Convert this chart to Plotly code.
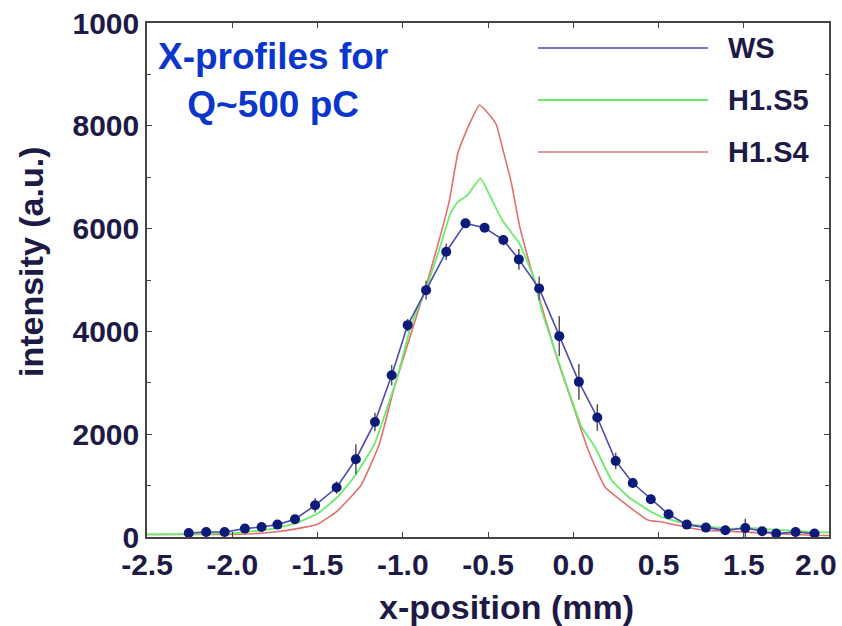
import plotly.graph_objects as go

# ---- data ----
ws_x = [-2.255, -2.153, -2.045, -1.926, -1.828, -1.735, -1.632, -1.514, -1.388, -1.275,
        -1.163, -1.065, -0.971, -0.863, -0.745, -0.632, -0.520, -0.410, -0.319, -0.200,
        -0.082, 0.033, 0.141, 0.249, 0.349, 0.455, 0.559, 0.666, 0.778, 0.892,
        1.009, 1.108, 1.190, 1.304, 1.415]
ws_y = [78, 97, 97, 163, 195, 241, 345, 617, 962, 1513,
        2239, 3148, 4122, 4803, 5549, 6102, 6016, 5777, 5401, 4836,
        3908, 3018, 2325, 1480, 1051, 734, 442, 241, 183, 130,
        175, 111, 66, 97, 66]
ws_err = [30, 30, 40, 40, 40, 50, 60, 140, 120, 290,
          180, 200, 120, 180, 160, 80, 80, 100, 200, 230,
          390, 350, 260, 160, 100, 80, 80, 60, 60, 60,
          180, 50, 40, 50, 40]

s5_x = [-2.5, -1.951, -1.755, -1.618, -1.5, -1.382, -1.285, -1.167, -1.029, -0.951,
        -0.867, -0.790, -0.720, -0.676, -0.620, -0.544, -0.486, -0.417, -0.314, -0.265,
        -0.226, -0.186, -0.108, -0.029, 0.049, 0.127, 0.225, 0.324, 0.441, 0.519,
        0.656, 0.912, 1.010, 1.402, 1.5]
s5_y = [50, 86, 163, 280, 456, 779, 1168, 1800, 3148, 4122,
        4803, 5549, 6297, 6523, 6650, 6978, 6620, 6166, 5700, 5323,
        4998, 4414, 3635, 2856, 2142, 1752, 1104, 779, 520, 389,
        261, 163, 175, 97, 90]

s4_x = [-2.5, -1.951, -1.755, -1.618, -1.5, -1.386, -1.245, -1.138, -1.049, -0.951,
        -0.853, -0.775, -0.726, -0.676, -0.618, -0.549, -0.491, -0.451, -0.412, -0.363,
        -0.314, -0.235, -0.167, -0.088, 0.0, 0.088, 0.186, 0.304, 0.441, 0.519,
        0.656, 0.774, 1.049, 1.402, 1.5]
s4_y = [50, 53, 97, 163, 247, 500, 1006, 1800, 2920, 3960,
        5000, 5913, 6555, 7480, 7970, 8405, 8210, 8020, 7530, 6890,
        6040, 5062, 4283, 3400, 2550, 1688, 973, 650, 325, 292,
        195, 130, 90, 33, 30]

x_tickvals = [-2.5, -2.0, -1.5, -1.0, -0.5, 0.0, 0.5, 1.0, 1.5]
x_ticktext = ['-2.5', '-2.0', '-1.5', '-1.0', '-0.5', '0.0', '0.5', '1.5', '']
x_last_label = '2.0'   # printed slightly left of the last tick, as in the reference
y_tickvals = [0, 2000, 4000, 6000, 8000, 10000]
y_ticktext = ['0', '2000', '4000', '6000', '8000', '1000']

series_names = ['WS', 'H1.S5', 'H1.S4']
series_colors = ['#4b4bb0', '#6cec6c', '#e07070']

NAVY = '#1e1a45'
FONT = 'Liberation Sans, Arial, sans-serif'

# plot-area geometry in pixels (for placing decorations in paper coords)
L, R, T, B = 147, 829, 23, 537
PW, PH = R - L, B - T


def px(xp):
    return (xp - L) / PW


def py(yp):
    return (B - yp) / PH


fig = go.Figure()

fig.add_trace(go.Scatter(x=s4_x, y=s4_y, mode='lines', name='H1.S4',
                         line=dict(color=series_colors[2], width=1.6, shape='spline', smoothing=0.4)))
fig.add_trace(go.Scatter(x=s5_x, y=s5_y, mode='lines', name='H1.S5',
                         line=dict(color=series_colors[1], width=1.8, shape='spline', smoothing=0.4)))
fig.add_trace(go.Scatter(x=ws_x, y=ws_y, mode='lines+markers', name='WS',
                         line=dict(color=series_colors[0], width=1.6),
                         marker=dict(color='#0d1b78', size=10),
                         error_y=dict(type='data', array=ws_err, visible=True,
                                      color='#555555', thickness=1.5, width=0)))

# legend drawn as long line samples with labels
leg_y = [48, 100, 152]
for name, col, yy in zip(series_names, series_colors, leg_y):
    fig.add_shape(type='line', xref='paper', yref='paper',
                  x0=px(538), x1=px(708), y0=py(yy), y1=py(yy),
                  line=dict(color=col, width=2.2 if name == 'H1.S5' else 1.6))
    fig.add_annotation(xref='paper', yref='paper', x=px(726), y=py(yy),
                       text=name, showarrow=False, xanchor='left', yanchor='middle',
                       font=dict(family=FONT, size=29, color=NAVY, weight='bold'))

fig.add_annotation(xref='paper', yref='paper', x=px(273), y=py(80),
                   text='X-profiles for<br>Q~500 pC', showarrow=False,
                   xanchor='center', yanchor='middle', align='center',
                   font=dict(family=FONT, size=37, color='#0a36cc', weight='bold'))

# last x tick label (shifted left like the reference)
fig.add_annotation(xref='paper', yref='paper', x=px(816), y=py(564.5),
                   text=x_last_label, showarrow=False, xanchor='center', yanchor='middle',
                   font=dict(family=FONT, size=30, color=NAVY, weight='bold'))

# axis titles
fig.add_annotation(xref='paper', yref='paper', x=px(506), y=py(607),
                   text='x-position (mm)', showarrow=False, xanchor='center', yanchor='middle',
                   font=dict(family=FONT, size=34, color=NAVY, weight='bold'))
fig.add_annotation(xref='paper', yref='paper', x=px(31), y=py(262),
                   text='intensity (a.u.)', showarrow=False, textangle=-90,
                   xanchor='center', yanchor='middle',
                   font=dict(family=FONT, size=34, color=NAVY, weight='bold'))

axis_common = dict(showline=True, linecolor='#444444', linewidth=1.5, mirror='allticks',
                   ticks='inside', ticklen=5, tickcolor='#444444', tickwidth=1,
                   showgrid=False, zeroline=False, ticklabeloverflow='allow',
                   automargin=False,
                   tickfont=dict(family=FONT, size=30, color=NAVY, weight='bold'))

fig.update_xaxes(**axis_common, range=[-2.5, 1.5], tickvals=x_tickvals, ticktext=x_ticktext)
fig.update_yaxes(**axis_common, range=[0, 10000], tickvals=y_tickvals, ticktext=y_ticktext,
                 minor=dict(ticks='inside', ticklen=4, dtick=1000, tickcolor='#444444'))

fig.update_layout(width=842, height=626,
                  margin=dict(l=L, r=842 - R, t=T, b=626 - B, autoexpand=False),
                  paper_bgcolor='white', plot_bgcolor='white', showlegend=False)

fig.write_html('out.html')
